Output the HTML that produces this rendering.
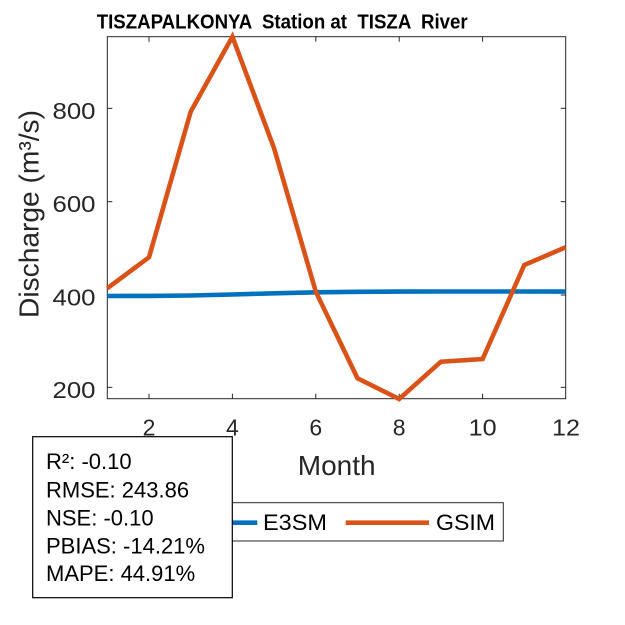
<!DOCTYPE html>
<html>
<head>
<meta charset="utf-8">
<style>
  html, body { margin: 0; padding: 0; background: #ffffff; }
  svg { display: block; }
  text { font-family: "Liberation Sans", Arial, sans-serif; }
</style>
</head>
<body>
<svg width="625" height="625" viewBox="0 0 625 625" xmlns="http://www.w3.org/2000/svg">
  <rect x="0" y="0" width="625" height="625" fill="#ffffff"/>

  <!-- Title -->
  <text x="96.7" y="28.3" font-size="20" font-weight="bold" fill="#000000" style="white-space:pre" textLength="371" lengthAdjust="spacingAndGlyphs">TISZAPALKONYA  Station at  TISZA  River</text>

  <!-- Axes box -->
  <rect x="107.3" y="36.7" width="458.4" height="362" fill="none" stroke="#262626" stroke-width="1"/>

  <!-- X ticks (bottom and top) -->
  <g stroke="#262626" stroke-width="1">
    <line x1="149" y1="398.7" x2="149" y2="393.7"/>
    <line x1="232.4" y1="398.7" x2="232.4" y2="393.7"/>
    <line x1="315.8" y1="398.7" x2="315.8" y2="393.7"/>
    <line x1="399.2" y1="398.7" x2="399.2" y2="393.7"/>
    <line x1="482.6" y1="398.7" x2="482.6" y2="393.7"/>
    <line x1="149" y1="36.7" x2="149" y2="41.7"/>
    <line x1="232.4" y1="36.7" x2="232.4" y2="41.7"/>
    <line x1="315.8" y1="36.7" x2="315.8" y2="41.7"/>
    <line x1="399.2" y1="36.7" x2="399.2" y2="41.7"/>
    <line x1="482.6" y1="36.7" x2="482.6" y2="41.7"/>
    <!-- Y ticks left and right -->
    <line x1="107.3" y1="108.3" x2="112.3" y2="108.3"/>
    <line x1="107.3" y1="201.7" x2="112.3" y2="201.7"/>
    <line x1="107.3" y1="295" x2="112.3" y2="295"/>
    <line x1="107.3" y1="387.3" x2="112.3" y2="387.3"/>
    <line x1="565.7" y1="108.3" x2="560.7" y2="108.3"/>
    <line x1="565.7" y1="201.7" x2="560.7" y2="201.7"/>
    <line x1="565.7" y1="295" x2="560.7" y2="295"/>
    <line x1="565.7" y1="387.3" x2="560.7" y2="387.3"/>
  </g>

  <!-- X tick labels -->
  <g font-size="23" fill="#262626" text-anchor="middle">
    <text x="149" y="435.5">2</text>
    <text x="232.4" y="435.5">4</text>
    <text x="315.8" y="435.5">6</text>
    <text x="399.2" y="435.5">8</text>
    <text x="482.6" y="435.5" textLength="28" lengthAdjust="spacingAndGlyphs">10</text>
    <text x="566" y="435.5" textLength="28" lengthAdjust="spacingAndGlyphs">12</text>
  </g>

  <!-- Y tick labels -->
  <g font-size="23" fill="#262626">
    <text x="52.5" y="118.8" textLength="43" lengthAdjust="spacingAndGlyphs">800</text>
    <text x="52.5" y="212.2" textLength="43" lengthAdjust="spacingAndGlyphs">600</text>
    <text x="52.5" y="305.5" textLength="43" lengthAdjust="spacingAndGlyphs">400</text>
    <text x="52.5" y="397.8" textLength="43" lengthAdjust="spacingAndGlyphs">200</text>
  </g>

  <!-- Axis labels -->
  <text x="336.7" y="475" font-size="28" fill="#262626" text-anchor="middle">Month</text>
  <text transform="translate(38.5,214) rotate(-90)" x="0" y="0" font-size="28" fill="#262626" text-anchor="middle" textLength="208" lengthAdjust="spacingAndGlyphs">Discharge (m³/s)</text>

  <!-- E3SM series -->
  <polyline fill="none" stroke="#0072BD" stroke-width="4.6" stroke-linejoin="miter"
    points="107.3,296 149,295.9 190.7,295.5 232.4,294.5 274.1,293.3 315.8,292.3 357.5,291.8 399.2,291.6 440.9,291.5 482.6,291.5 524.3,291.5 565.7,291.6"/>

  <!-- GSIM series -->
  <polyline fill="none" stroke="#D95319" stroke-width="4.6" stroke-linejoin="miter"
    points="107.3,288.3 149,257.3 190.7,111.7 232.4,36.7 274.1,148.3 315.8,291.7 357.5,378.3 399.2,399 440.9,361.7 482.6,359 524.3,265 565.7,247.3"/>

  <!-- Legend -->
  <rect x="166" y="502.7" width="337.3" height="38.3" fill="#ffffff" stroke="#262626" stroke-width="1"/>
  <line x1="174" y1="522.7" x2="257.3" y2="522.7" stroke="#0072BD" stroke-width="4.6"/>
  <text x="263" y="530" font-size="22" fill="#000000" textLength="64" lengthAdjust="spacingAndGlyphs">E3SM</text>
  <line x1="345.7" y1="522.7" x2="429" y2="522.7" stroke="#D95319" stroke-width="4.6"/>
  <text x="436" y="530" font-size="22" fill="#000000" textLength="59" lengthAdjust="spacingAndGlyphs">GSIM</text>

  <!-- Stats box -->
  <rect x="32.7" y="436.7" width="199.6" height="161" fill="#ffffff" stroke="#000000" stroke-width="1.2"/>
  <g font-size="22" fill="#000000">
    <text x="46" y="469">R²: -0.10</text>
    <text x="46" y="497.7">RMSE: 243.86</text>
    <text x="46" y="525.7">NSE: -0.10</text>
    <text x="46" y="553.3">PBIAS: -14.21%</text>
    <text x="46" y="581">MAPE: 44.91%</text>
  </g>
</svg>
</body>
</html>
